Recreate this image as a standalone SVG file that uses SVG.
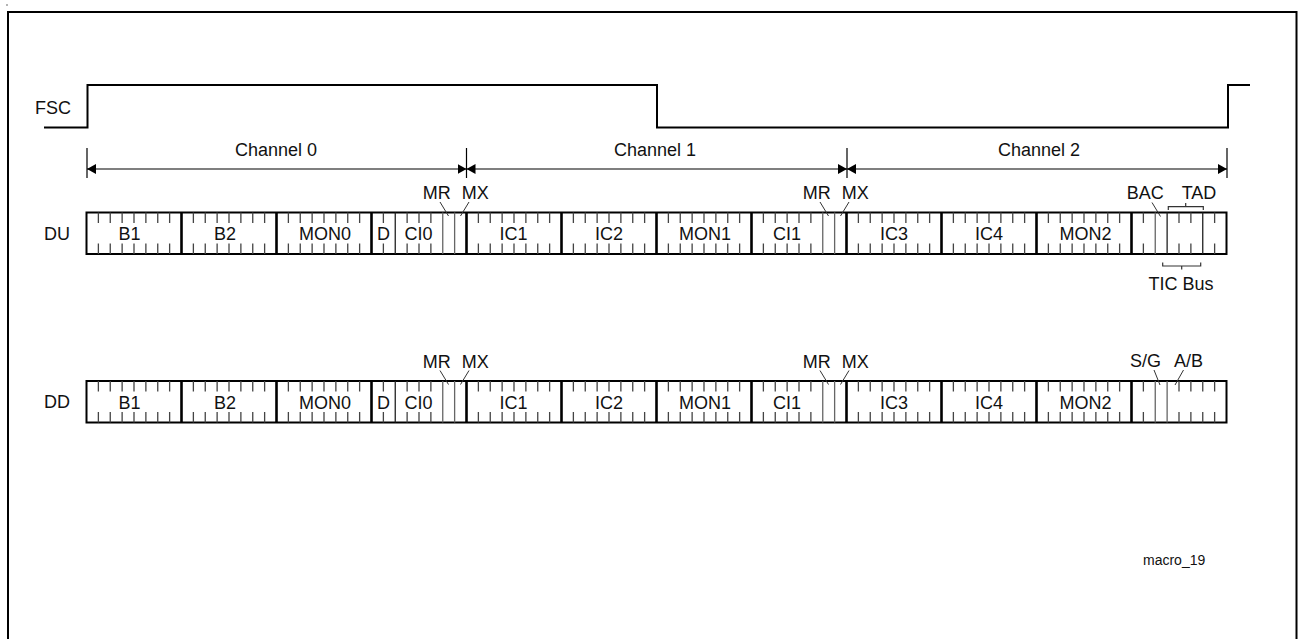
<svg xmlns="http://www.w3.org/2000/svg" xmlns:xlink="http://www.w3.org/1999/xlink" width="1298" height="639" viewBox="0 0 1298 639">
<style>
text{font-family:"Liberation Sans",Arial,sans-serif;font-size:18px;fill:#111}
.c{text-anchor:middle}
.e{text-anchor:end}
.sig{fill:none;stroke:#000;stroke-width:2}
.box{fill:#fff;stroke:#000;stroke-width:2}
.div{stroke:#000;stroke-width:2.6}
.full{stroke:#222;stroke-width:1.3}
.gray{stroke:#666;stroke-width:1.3}
.tk{stroke:#444;stroke-width:1.3}
.ldr{stroke:#333;stroke-width:1;fill:none}
.dim{stroke:#000;stroke-width:1.2;fill:none}
.brk{stroke:#333;stroke-width:1.2;fill:none}
</style>
<defs>
<marker id="ah" viewBox="0 0 9 10" refX="9" refY="5" markerWidth="9" markerHeight="10" markerUnits="userSpaceOnUse" orient="auto-start-reverse">
<path d="M0,0L9,5L0,10z" fill="#000"/>
</marker>
<path id="t" class="tk" d="M0,0v10.5M0,31v10.5"/>
<g id="bt">
<use xlink:href="#t" x="11.875"/><use xlink:href="#t" x="23.75"/><use xlink:href="#t" x="35.625"/><use xlink:href="#t" x="47.5"/><use xlink:href="#t" x="59.375"/><use xlink:href="#t" x="71.25"/><use xlink:href="#t" x="83.125"/>
</g>
<g id="row">
<rect class="box" x="86.5" y="0" width="1140" height="41.5"/>
<use xlink:href="#bt" x="86.5"/><use xlink:href="#bt" x="181.5"/><use xlink:href="#bt" x="276.5"/>
<use xlink:href="#bt" x="466.5"/><use xlink:href="#bt" x="561.5"/><use xlink:href="#bt" x="656.5"/>
<use xlink:href="#bt" x="846.5"/><use xlink:href="#bt" x="941.5"/><use xlink:href="#bt" x="1036.5"/>
<use xlink:href="#t" x="383.375"/><use xlink:href="#t" x="407.125"/><use xlink:href="#t" x="419"/><use xlink:href="#t" x="430.875"/>
<path class="full" d="M395.25,0v41.5"/>
<path class="gray" d="M442.75,0v41.5M454.625,0v41.5"/>
<use xlink:href="#t" x="763.375"/><use xlink:href="#t" x="775.25"/><use xlink:href="#t" x="787.125"/><use xlink:href="#t" x="799"/><use xlink:href="#t" x="810.875"/>
<path class="gray" d="M822.75,0v41.5M834.625,0v41.5"/>
<use xlink:href="#t" x="1143.375"/><use xlink:href="#t" x="1179"/><use xlink:href="#t" x="1190.875"/><use xlink:href="#t" x="1214.625"/>
<path class="gray" d="M1155.25,0v41.5"/>
<path class="div" d="M181.5,0v41.5M276.5,0v41.5M371.5,0v41.5M466.5,0v41.5M561.5,0v41.5M656.5,0v41.5M751.5,0v41.5M846.5,0v41.5M941.5,0v41.5M1036.5,0v41.5M1131.5,0v41.5"/>
<text class="c" x="129.5" y="27.5">B1</text>
<text class="c" x="225" y="27.5">B2</text>
<text class="c" x="325" y="27.5">MON0</text>
<text class="c" x="383.4" y="27.5">D</text>
<text class="c" x="418.5" y="27.5">CI0</text>
<text class="c" x="513.5" y="27.5">IC1</text>
<text class="c" x="609" y="27.5">IC2</text>
<text class="c" x="705" y="27.5">MON1</text>
<text class="c" x="787" y="27.5">CI1</text>
<text class="c" x="894" y="27.5">IC3</text>
<text class="c" x="989" y="27.5">IC4</text>
<text class="c" x="1085.5" y="27.5">MON2</text>
<text x="422.7" y="-13.5">MR</text>
<text x="461.7" y="-13.5">MX</text>
<text x="802.7" y="-13.5">MR</text>
<text x="841.7" y="-13.5">MX</text>
<path class="ldr" d="M440,-10.5L448.5,3.5M469,-10.5L460.5,3.5M820,-10.5L828.5,3.5M849,-10.5L840.5,3.5"/>
</g>
</defs>

<rect x="8" y="12" width="1288.5" height="640" fill="none" stroke="#000" stroke-width="2"/>
<circle cx="7" cy="5" r="0.8" fill="#555"/>

<g id="fsc">
<path class="sig" d="M44,127.5H87.5V85H657V127.5H1228V85H1250"/>
<text class="e" x="71" y="113.5">FSC</text>
</g>

<g id="connectors">
<path class="dim" d="M87,148V178M466.5,148V178M847,148V178M1227,148V178"/>
<line class="dim" x1="87" y1="169" x2="466.5" y2="169" marker-start="url(#ah)" marker-end="url(#ah)"/>
<line class="dim" x1="466.5" y1="169" x2="847" y2="169" marker-start="url(#ah)" marker-end="url(#ah)"/>
<line class="dim" x1="847" y1="169" x2="1227" y2="169" marker-start="url(#ah)" marker-end="url(#ah)"/>
<text class="c" x="276" y="156">Channel 0</text>
<text class="c" x="655" y="156">Channel 1</text>
<text class="c" x="1039" y="156">Channel 2</text>
</g>

<g id="du">
<text class="e" x="70" y="240">DU</text>
<use xlink:href="#row" y="212.5"/>
<path class="full" d="M1167.125,212.5v41.5M1202.75,212.5v41.5"/>
<text x="1126.7" y="199">BAC</text>
<path class="ldr" d="M1152,202.5L1160.5,216.5"/>
<text x="1181.7" y="199">TAD</text>
<path class="brk" d="M1168.3,210V206.7H1203.3V210M1185.7,206.7V203"/>
<path class="brk" d="M1162.7,262.5V266H1200.7V262.5M1181.7,266V269.5"/>
<text class="c" x="1181" y="290">TIC Bus</text>
</g>

<g id="dd">
<text class="e" x="70" y="408">DD</text>
<use xlink:href="#row" y="381"/>
<path class="gray" d="M1167.125,381v41.5"/>
<use xlink:href="#t" x="1202.75" y="381"/>
<text x="1130" y="367">S/G</text>
<text x="1174" y="367">A/B</text>
<path class="ldr" d="M1154,370L1160,385M1183.5,370L1175,385"/>
</g>

<text x="1143" y="565" style="font-size:14px">macro_19</text>
</svg>
